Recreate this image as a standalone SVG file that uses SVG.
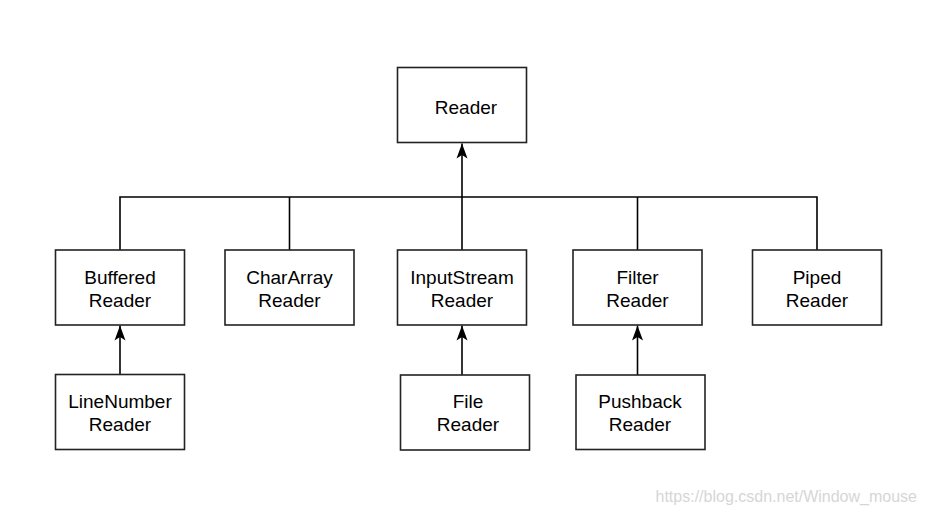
<svg xmlns="http://www.w3.org/2000/svg" width="927" height="515" viewBox="0 0 927 515">
<style>
.box{fill:#fff;stroke:#222;stroke-width:1.6}
.t{font-family:"Liberation Sans",Arial,sans-serif;font-size:19px;fill:#000;text-anchor:middle}
.c{fill:none;stroke:#000;stroke-width:1.6}
.wm{font-family:"Liberation Sans",Arial,sans-serif;font-size:16px;fill:#d6d6d6;text-anchor:end}
</style>
<defs>
<marker id="arr" markerUnits="userSpaceOnUse" markerWidth="18" markerHeight="14" refX="15" refY="5.5" orient="auto" overflow="visible">
<path d="M0,0 L15,5.5 L0,11 L3.5,5.5 Z" fill="#000"/>
</marker>
</defs>
<rect width="927" height="515" fill="#fff"/>
<g id="connectors">
<path class="c" d="M120,250 V197 H817 V250"/>
<path class="c" d="M289.5,250 V197"/>
<path class="c" d="M462,250 V197"/>
<path class="c" d="M637.5,250 V197"/>
<path class="c" d="M462,197 V143.5" marker-end="url(#arr)"/>
<path class="c" d="M120,374.5 V325.5" marker-end="url(#arr)"/>
<path class="c" d="M462,375 V325.5" marker-end="url(#arr)"/>
<path class="c" d="M637.5,375 V325.5" marker-end="url(#arr)"/>
</g>
<g id="reader"><rect class="box" x="397.5" y="67.5" width="129" height="75"/><text class="t" x="466" y="114">Reader</text></g>
<g id="buffered"><rect class="box" x="55.5" y="250" width="129" height="75"/><text class="t" x="120" y="284">Buffered</text><text class="t" x="120" y="307">Reader</text></g>
<g id="chararray"><rect class="box" x="225" y="250" width="129" height="75"/><text class="t" x="289.5" y="284">CharArray</text><text class="t" x="289.5" y="307">Reader</text></g>
<g id="inputstream"><rect class="box" x="397.5" y="250" width="129" height="75"/><text class="t" x="462" y="284">InputStream</text><text class="t" x="462" y="307">Reader</text></g>
<g id="filter"><rect class="box" x="573" y="250" width="129" height="75"/><text class="t" x="637.5" y="284">Filter</text><text class="t" x="637.5" y="307">Reader</text></g>
<g id="piped"><rect class="box" x="752.5" y="250" width="129" height="75"/><text class="t" x="817" y="284">Piped</text><text class="t" x="817" y="307">Reader</text></g>
<g id="linenumber"><rect class="box" x="55.5" y="374.5" width="129" height="75"/><text class="t" x="120" y="408">LineNumber</text><text class="t" x="120" y="431">Reader</text></g>
<g id="file"><rect class="box" x="400.5" y="375" width="129" height="75"/><text class="t" x="468" y="408">File</text><text class="t" x="468" y="431">Reader</text></g>
<g id="pushback"><rect class="box" x="576" y="375" width="129" height="74.5"/><text class="t" x="640" y="408">Pushback</text><text class="t" x="640" y="431">Reader</text></g>
<text class="wm" x="917" y="502">https://blog.csdn.net/Window_mouse</text>
</svg>
